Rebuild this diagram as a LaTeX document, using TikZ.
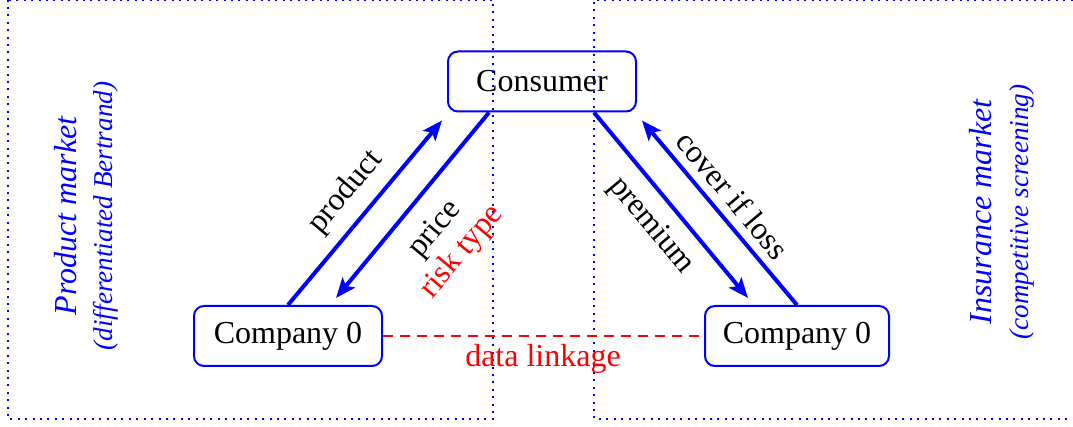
\documentclass[tikz,border=0pt]{standalone}
\usepackage{fontspec}
\setmainfont{Liberation Serif}
\usetikzlibrary{arrows.meta,calc}
\tikzset{
  mainfont/.style={font=\fontsize{16}{17.5}\selectfont},
  agent/.style={draw=blue, line width=1pt, rounded corners=5pt, minimum width=94pt, minimum height=30pt, inner sep=0pt, mainfont},
  flow/.style={draw=blue, line width=2pt, -{Stealth[length=10pt,width=8pt,inset=2.2pt]}},
  lbl/.style={mainfont, inner sep=0pt},
  market/.style={blue, dash pattern=on 1pt off 2.7pt, line width=1pt},
  mtitle/.style={blue, font=\fontsize{16}{18}\selectfont\itshape, rotate=90, inner sep=0pt},
  msub/.style={blue, font=\fontsize{13.6}{16}\selectfont\itshape, rotate=90, inner sep=0pt},
}
\begin{document}
\begin{tikzpicture}[x=0.5pt,y=-0.5pt]
\useasboundingbox (0,0) rectangle (1073,427);
% market boxes
\draw[market] (8,-0.3) -- (8,419) -- (493,419) -- (493,-0.3) -- cycle;
\draw[market] (1080,-0.3) -- (594,-0.3) -- (594,419) -- (1080,419);
% nodes
\node[agent] (cons) at (542,81.5) {Consumer};
\node[agent] (cl) at (288,336) {Company 0};
\node[agent, minimum width=92pt] (cr) at (797,336) {Company 0};
% connector end points
\coordinate (prodEnd) at ($(cons.south west)+(-5,8)$);
\coordinate (priceStart) at ($(cons.south west)+(42,0)$);
\coordinate (priceEnd) at ($(cl.north)+(48,-7)$);
\coordinate (premStart) at ($(cons.south east)+(-43,0)$);
\coordinate (premEnd) at ($(cr.north)+(-49,-7)$);
\coordinate (coverEnd) at ($(cons.south east)+(5,8)$);
% flows
\draw[flow] (cl.north) -- (prodEnd);
\draw[flow] (priceStart) -- (priceEnd);
\draw[flow] (premStart) -- (premEnd);
\draw[flow] (cr.north) -- (coverEnd);
\draw[red, line width=0.8pt, dash pattern=on 5pt off 3.5pt] (cl.east) -- (cr.west);
% labels
\node[lbl, rotate=50] (lprod) at (346,192) {product};
\node[lbl, rotate=50, align=center] (lprice) at (449,241) {price\\\textcolor{red}{risk type}};
\node[lbl, rotate=-50] (lprem) at (651,226) {premium};
\node[lbl, rotate=-50] (lcover) at (733,195) {cover if loss};
\node[lbl, red] (ldata) at (543,359) {data linkage};
% market titles
\node[mtitle] (pm) at (66,216) {Product market};
\node[msub] (pmsub) at (106,216) {(differentiated Bertrand)};
\node[mtitle] (im) at (981,212) {Insurance market};
\node[msub] (imsub) at (1022,212) {(competitive screening)};
\end{tikzpicture}
\end{document}
